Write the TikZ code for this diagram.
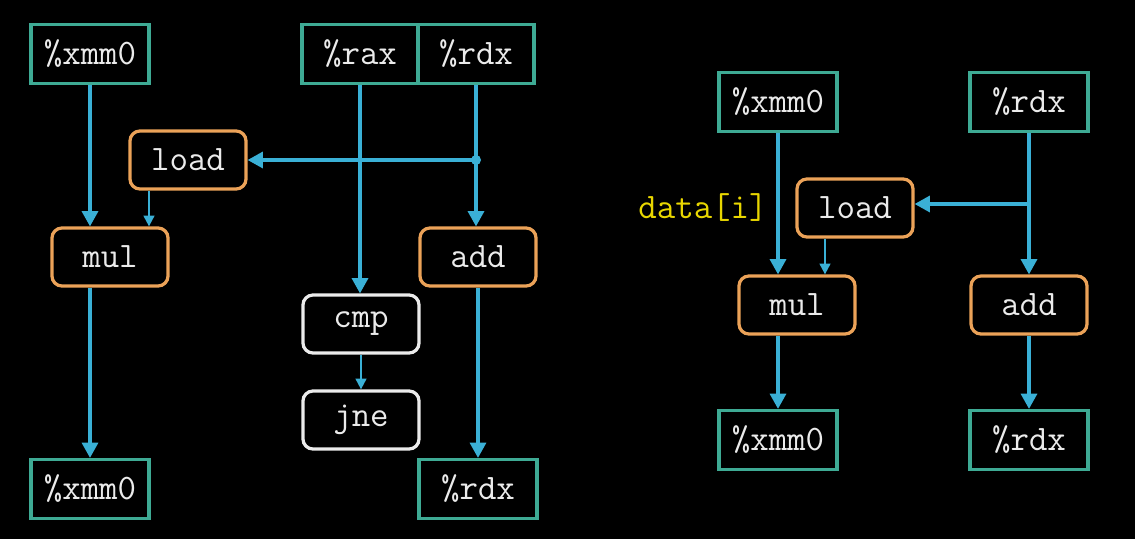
\documentclass[tikz,border=0pt]{standalone}
\usepackage{fontspec}
\usepackage{tikz}
\usetikzlibrary{arrows.meta}
\definecolor{regc}{RGB}{62,170,148}
\definecolor{opc}{RGB}{235,162,88}
\definecolor{arrc}{RGB}{58,176,214}
\definecolor{yelc}{RGB}{232,214,0}
\tikzset{
  reg/.style={draw=regc, line width=2.3pt, minimum width=2.95cm, minimum height=1.475cm, text=white!92!black},
  op/.style={draw=opc, line width=2.3pt, rounded corners=0.25cm, minimum width=2.9cm, minimum height=1.45cm, text=white!92!black},
  br/.style={op, draw=white!92!black},
  arr/.style={draw=arrc, line width=2.2pt, -{Triangle[width=0.4cm,length=0.38cm]}},
  arrs/.style={draw=arrc, line width=1.4pt, -{Triangle[width=0.27cm,length=0.27cm]}}
}
\begin{document}
\begin{tikzpicture}[x=0.025cm, y=-0.025cm, font=\ttfamily\fontsize{25.5}{30}\selectfont]
\fill[black] (0,0) rectangle (1135,539);
\useasboundingbox (0,0) rectangle (1135,539);
\node [reg] (xmma) at (90,54) {\%xmm0};
\node [reg, minimum width=2.9cm] (rax) at (360,54) {\%rax};
\node [reg, minimum width=2.9cm] (rdx) at (476,54) {\%rdx};
\node [op] (load) at (188,160) {load};
\node [op] (mul) at (110,257) {mul};
\node [op] (add) at (478,257) {add};
\node [br] (cmp) at (361,324) {cmp};
\node [br] (jne) at (361,420) {jne};
\node [reg] (xmmb) at (90,489) {\%xmm0};
\node [reg] (rdxb) at (478,489) {\%rdx};
\coordinate (j1) at (rdx |- load);
\draw [arr] (xmma) -- (xmma |- mul.north);
\draw [arrs] ([xshift=-0.975cm]load.south) -- ([xshift=-0.975cm]load.south |- mul.north);
\draw [arr] (rax) -- (rax |- cmp.north);
\draw [arr] (rdx) -- (rdx |- add.north);
\draw [arr] (j1) -- (load.east);
\fill [arrc] (j1) circle (5);
\draw [arrs] (cmp) -- (jne);
\draw [arr] (mul.south -| xmma) -- (xmmb);
\draw [arr] (add) -- (rdxb);
\node [reg] (xmmc) at (778,102) {\%xmm0};
\node [reg] (rdxc) at (1029,102) {\%rdx};
\node [op] (load2) at (855,208) {load};
\node [op] (mul2) at (797,305) {mul};
\node [op] (add2) at (1029,305) {add};
\node [reg] (xmmd) at (778,440) {\%xmm0};
\node [reg] (rdxd) at (1029,440) {\%rdx};
\node [text=yelc] (data) at (703,208) {data[i]};
\coordinate (j2) at (1029,204);
\draw [arr] (xmmc) -- (xmmc |- mul2.north);
\draw [arrs] ([xshift=-0.75cm]load2.south) -- ([xshift=-0.75cm]load2.south |- mul2.north);
\draw [arr] (rdxc) -- (add2);
\draw [arr] (j2) -- (load2.east |- j2);
\draw [arr] (xmmc |- mul2.south) -- (xmmd);
\draw [arr] (add2) -- (rdxd);
\end{tikzpicture}
\end{document}
